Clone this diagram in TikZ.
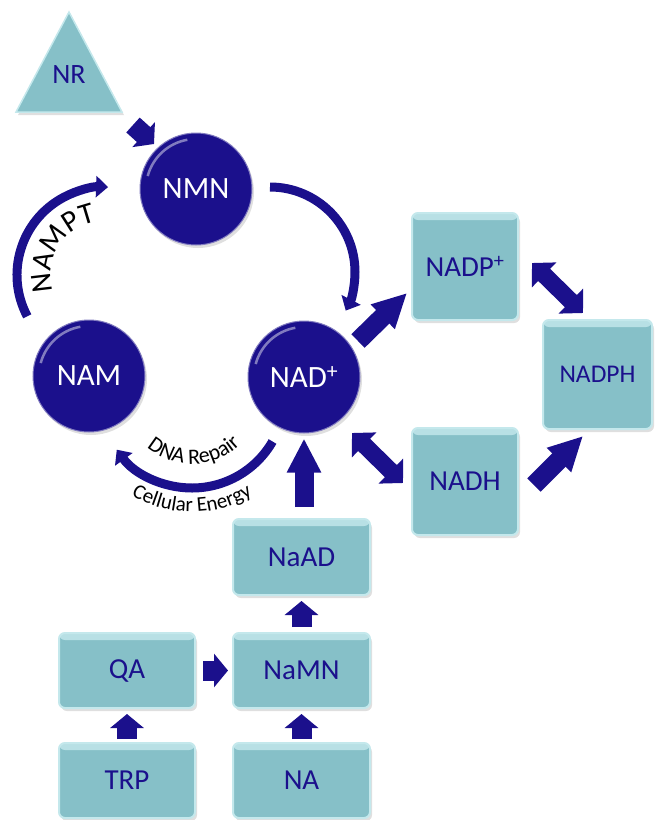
\documentclass[tikz,border=0pt]{standalone}
\usepackage{fontspec}
\setmainfont{Carlito}
\usetikzlibrary{arrows.meta,calc,shadows,decorations.text}
\definecolor{navy}{RGB}{27,16,140}
\definecolor{boxteal}{RGB}{134,192,200}
\definecolor{boxrim}{RGB}{196,232,236}
\tikzset{
  mol/.style={circle, fill=navy, draw=navy!55!white, line width=1pt,
    minimum size=112pt, inner sep=0pt, text=white, font=\fontsize{31}{34}\selectfont,
    path picture={\draw[white, opacity=0.45, line width=2.5pt]
      ($(path picture bounding box.center)+(100:50)$) arc[start angle=100, end angle=165, radius=50];},
    drop shadow={opacity=0.25, shadow xshift=2pt, shadow yshift=-3pt}},
  metab/.style={rectangle, rounded corners=6pt, fill=boxteal, draw=boxrim,
    line width=2pt, inner sep=0pt, text=navy, font=\fontsize{29}{32}\selectfont,
    path picture={\fill[boxrim!80!boxteal] (path picture bounding box.north west)
      rectangle ([yshift=-7pt]path picture bounding box.north east);},
    drop shadow={opacity=0.25, shadow xshift=2pt, shadow yshift=-3pt}},
  fat/.style={navy, line width=19pt, -{Triangle[length=34pt,width=32pt]}},
  dbl/.style={navy, line width=17pt, {Triangle[length=17pt,width=34pt]}-{Triangle[length=17pt,width=34pt]}},
  stub/.style={navy, line width=20pt, -{Triangle[length=14pt,width=33pt]}},
  arcarrow/.style={navy, line width=9pt, -{Triangle[length=12pt,width=21pt]}},
}
\begin{document}
\begin{tikzpicture}[x=1pt,y=1pt]
\useasboundingbox (0,0) rectangle (658,-820);
% NR
\draw[fill=boxteal, draw=boxrim, line width=1.5pt,
  drop shadow={opacity=0.25, shadow xshift=2pt, shadow yshift=-3pt}]
  (16,-112) -- (69,-12) -- (122,-112) -- cycle;
\node[text=navy, font=\fontsize{28}{30}\selectfont] (nr) at (69,-75) {NR};
% salvage cycle
\node[mol] (nmn) at (196,-189) {NMN};
\node[mol] (nam) at (89,-376) {NAM};
\node[mol] (nad) at (304,-377) {NAD\textsuperscript{+}};
% boxes
\node[metab, minimum width=106pt, minimum height=107pt] (nadp) at (465,-266.5) {NADP\textsuperscript{+}};
\node[metab, minimum width=109pt, minimum height=109pt, font=\fontsize{25.5}{28}\selectfont] (nadph) at (597.5,-374.5) {NADPH};
\node[metab, minimum width=106pt, minimum height=107pt] (nadh) at (465,-481.5) {NADH};
\node[metab, minimum width=137pt, minimum height=76pt] (naad) at (301.5,-557) {NaAD};
\node[metab, minimum width=137pt, minimum height=75pt] (namn) at (301.5,-670.5) {NaMN};
\node[metab, minimum width=136pt, minimum height=75pt] (qa) at (127,-670.5) {QA};
\node[metab, minimum width=136pt, minimum height=75pt] (trp) at (127,-780.5) {TRP};
\node[metab, minimum width=137pt, minimum height=75pt] (na) at (301.5,-780.5) {NA};
% block arrows
\draw[stub] ($(nr)+(64,-50)$) -- ($(nmn)+(-42,45)$);
\draw[fat] ($(nad)+(54,36)$) -- ($(nadp)+(-58,-26.5)$);
\draw[dbl] ($(nadp)+(67,3.5)$) -- ($(nadph)+(-14.5,61.5)$);
\draw[dbl] ($(nad)+(48,-56)$) -- ($(nadh)+(-62,-1.5)$);
\draw[fat] ($(nadh)+(69,-3.5)$) -- ($(nadph)+(-14.5,-61.5)$);
\draw[fat] ($(nad.south |- naad.north)+(0,11)$) -- ($(nad.south)+(0,-5)$);
\draw[stub] ($(namn.north)+(0,5)$) -- ($(naad.south)+(0,-5)$);
\draw[stub] ($(na.north)+(0,3)$) -- ($(namn.south)+(0,-5)$);
\draw[stub] ($(trp.north)+(0,3)$) -- ($(qa.south)+(0,-5)$);
\draw[stub] ($(qa.east)+(7,0)$) -- ($(namn.west)+(-4,0)$);
% curved arrows
\coordinate (ringL) at ($(nam)+(16,101)$);
\coordinate (ringR) at ($(nmn)+(74,-83)$);
\coordinate (ringB) at ($(nad)+(-112,-18)$);
\draw[arcarrow] ($(ringL)+(208:88)$) arc[start angle=208, end angle=88, radius=88];
\draw[arcarrow] ($(ringR)+(90:85)$) arc[start angle=90, end angle=-27, radius=85];
\draw[arcarrow] ($(ringB)+(-30:93)$) arc[start angle=-30, end angle=-144, radius=93];
\path[decorate, decoration={text along path, text align=center,
  text={|\fontsize{30}{32}\selectfont|NAMPT}}]
  ($(ringL)+(205:54)$) arc[start angle=205, end angle=91, radius=54];
\path[decorate, decoration={text along path, text align=center,
  text={|\fontsize{22}{24}\selectfont|DNA Repair}}]
  ($(ringB)+(-135:69)$) arc[start angle=-135, end angle=-41, radius=69];
\path[decorate, decoration={text along path, text align=center,
  text={|\fontsize{21}{23}\selectfont|Cellular Energy}}]
  ($(ringB)+(-125:117)$) arc[start angle=-125, end angle=-55, radius=117];
\end{tikzpicture}
\end{document}
